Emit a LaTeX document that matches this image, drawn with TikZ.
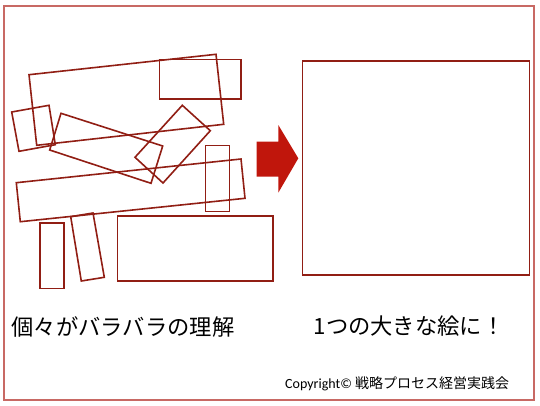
\documentclass[tikz,border=0pt]{standalone}
\usepackage{fontspec}
\setmainfont{Carlito}
\newfontfamily\jp{Noto Sans CJK JP}
\definecolor{frameRed}{RGB}{200,105,100}
\definecolor{pieceRed}{RGB}{145,30,20}
\definecolor{arrowRed}{RGB}{192,22,12}
\tikzset{
  piece/.style={draw=pieceRed, line width=1.6pt, line join=miter},
  caption/.style={anchor=west, inner sep=0pt, font=\jp\fontsize{22.3}{24}\selectfont},
}
\begin{document}
\begin{tikzpicture}[x=1pt,y=-1pt]
\useasboundingbox (0,0) rectangle (540,405);
\draw[draw=frameRed, line width=2pt] (4,5.5) rectangle (534.3,400);
% scattered pieces
\draw[piece] (29,74.7) -- (216,54.3) -- (223.7,124.3) -- (36.7,145.3) -- cycle;
\draw[piece] (159.3,59.3) rectangle (241,98.7);
\draw[piece] (11.7,112) -- (49,105.3) -- (55.3,144.7) -- (19,151.3) -- cycle;
\draw[piece] (61,113.3) -- (162.7,146) -- (151,183.3) -- (49.7,150) -- cycle;
\draw[piece] (182.3,105.3) -- (210.3,130.7) -- (163,183) -- (135,157.3) -- cycle;
\draw[piece] (16.3,182.7) -- (241,159) -- (245,198.3) -- (20.3,221.7) -- cycle;
\draw[piece] (205.3,145.3) rectangle (229.3,211.3);
\draw[piece] (40,222.7) rectangle (64,288.3);
\draw[piece] (70.7,216.7) -- (93,213) -- (104.3,277.3) -- (81.3,281) -- cycle;
\draw[piece] (117.3,216) rectangle (272.7,281);
% arrow
\fill[arrowRed] (256.7,141.7) -- (278.3,141.7) -- (278.3,125) -- (298.3,158.3)
  -- (278.3,192.7) -- (278.3,176.7) -- (256.7,176.7) -- cycle;
% big picture
\draw[piece] (302.3,61) rectangle (529.3,275);
% texts
\node[caption] (left) at (11.5,326.5) {個々がバラバラの理解};
\node[caption] (right) at (313.5,326.5) {1つの大きな絵に！};
\node[anchor=west, inner sep=0pt, font=\fontsize{14}{16}\selectfont] (copy) at (285,383.5) {Copyright© {\jp 戦略プロセス経営実践会}};
\end{tikzpicture}
\end{document}
